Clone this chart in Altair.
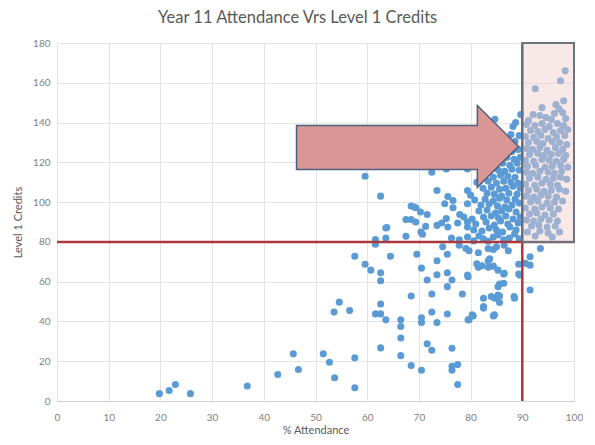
import altair as alt
import pandas as pd

# ---------- data ----------
# sparse low scores
xA = [19.8, 21.7, 22.9, 25.8, 36.8, 42.7, 45.7, 46.7, 51.5, 52.7, 53.7, 57.6, 57.6, 53.6, 54.6, 56.6,
      62.6, 61.6, 62.6, 63.6, 62.6, 66.5, 66.5, 66.5, 66.5, 68.5, 70.5, 70.5, 70.5, 71.6, 72.5, 72.5,
      73.5, 75.5, 76.4, 76.4, 77.5, 76.4, 77.5, 68.5, 72.5, 78.4, 79.5, 80.5, 82.5, 82.5, 84.4, 84.7,
      85.6, 85.6, 88.5, 75.5, 76.4, 71.6, 62.6, 80.3, 79.7, 84.6, 82.5, 84.0, 85.3]
yA = [3.7, 5.3, 8.3, 3.7, 7.5, 13.3, 23.7, 15.8, 23.7, 19.5, 11.7, 21.7, 6.7, 44.7, 49.7, 45.5,
      48.8, 43.8, 43.8, 40.8, 26.7, 40.8, 37.5, 31.7, 22.8, 17.8, 15.5, 41.8, 39.5, 28.8, 25.5, 44.7,
      39.5, 43.7, 26.5, 17.5, 18.3, 15.5, 8.3, 52.8, 53.8, 53.8, 40.8, 42.8, 46.7, 51.7, 42.8, 51.7,
      52.8, 49.5, 51.7, 57.5, 60.8, 60.8, 60.5, 43.3, 40.8, 43.3, 47.5, 52.5, 53.3]

# middle band (55-80 credits)
xB = [57.6, 64.5, 69.6, 59.6, 60.7, 62.6, 70.5, 73.5, 75.5, 73.5, 75.5, 79.5, 61.6, 61.6, 63.6, 63.6,
      67.5, 79.1, 79.7, 81.5, 83.4, 84.4, 87.3, 81.5, 83.4, 83.4, 84.4, 85.3, 86.4, 85.6, 86.4, 85.3,
      89.3, 89.3, 74.6, 77.8, 85.0, 86.5, 86.5, 79.4, 81.2, 82.2, 83.7, 93.5, 91.5, 91.5, 90.6, 89.5,
      91.5, 88.4]
yB = [72.8, 72.8, 73.8, 68.8, 65.8, 64.5, 66.8, 70.5, 73.8, 63.5, 64.5, 62.5, 78.8, 81.2, 82.0, 87.0,
      82.8, 76.7, 75.5, 74.5, 76.7, 76.2, 75.5, 67.2, 70.5, 67.2, 67.8, 65.8, 63.8, 58.8, 59.2, 57.5,
      68.8, 63.8, 77.5, 78.3, 77.5, 78.3, 64.2, 63.3, 69.0, 68.0, 71.5, 76.7, 72.5, 68.3, 69.2, 63.3,
      55.8, 52.5]

# upper middle, attendance below 80 %
xC = [59.6, 62.6, 68.5, 69.4, 67.5, 68.5, 69.4, 71.6, 71.3, 70.4, 70.7, 73.5, 74.4, 75.3, 75.6, 72.5,
      73.5, 75.3, 79.4, 79.4, 75.6, 76.6, 75.0, 76.6, 79.4, 77.9, 78.7, 79.4, 63.8, 69.1, 70.3]
yC = [113.0, 103.0, 98.0, 97.2, 91.2, 91.2, 90.0, 93.8, 87.8, 85.0, 83.8, 88.3, 89.5, 91.7, 87.5, 115.0,
      105.8, 116.7, 116.7, 105.8, 102.8, 100.8, 99.2, 97.2, 99.2, 93.8, 92.5, 90.0, 87.2, 97.5, 95.0]

# dense cluster, 80-90 % attendance
xD = [76.3, 77.8, 79.4, 80.6, 81.6, 82.5, 83.4, 84.4, 85.3, 86.4, 87.5, 88.5, 89.4,
      79.4, 80.6, 82.2, 83.6, 85.0, 86.2, 87.6, 88.8,
      77.5, 81.0, 83.0, 84.6, 85.8, 87.2, 89.2,
      80.3, 82.5, 84.0, 85.4, 86.8, 88.2, 89.6,
      81.6, 83.2, 84.8, 86.0, 87.4, 88.8,
      82.0, 83.6, 85.2, 86.6, 88.0, 89.4,
      80.8, 82.8, 84.4, 85.6, 87.0, 88.6,
      80.0, 83.2, 84.6, 86.0, 87.4, 89.0,
      82.4, 84.0, 85.6, 86.8, 88.2, 89.6,
      81.2, 83.4, 85.0, 86.4, 87.8, 89.2,
      82.6, 84.4, 85.8, 87.2, 88.6,
      82.5, 84.0, 85.4, 86.6, 88.0, 89.4,
      84.8, 86.2, 87.6, 89.0,
      85.6, 87.0, 88.4, 89.6,
      86.4, 88.0, 89.2,
      86.8, 88.6,
      87.8, 89.4,
      88.2,
      84.7, 88.7,
      89.7]
yD = [82.0, 81.0, 82.5, 80.5, 83.0, 81.5, 80.3, 82.5, 83.5, 81.0, 82.0, 84.0, 81.5,
      87.5, 86.0, 85.5, 87.0, 86.0, 85.0, 87.5, 86.0,
      89.5, 89.0, 90.0, 88.5, 90.5, 89.0, 89.5,
      91.5, 92.5, 93.0, 92.0, 93.0, 91.5, 92.5,
      95.5, 96.0, 94.5, 95.5, 96.5, 95.0,
      98.5, 99.0, 98.0, 97.5, 98.5, 99.5,
      101.0, 101.5, 100.5, 102.0, 101.0, 101.5,
      103.5, 104.5, 104.0, 103.0, 104.5, 104.0,
      107.0, 107.5, 106.5, 107.0, 108.0, 107.0,
      110.0, 110.5, 109.5, 110.5, 110.0, 109.5,
      113.0, 112.5, 113.5, 113.0, 112.5,
      115.5, 116.5, 116.0, 115.5, 116.5, 116.0,
      119.0, 119.5, 118.5, 119.5,
      122.0, 122.5, 121.5, 122.5,
      126.0, 125.5, 126.5,
      130.0, 130.5,
      134.0, 133.5,
      138.0,
      141.7, 140.0,
      144.0]

# highlighted group, 90 %+ attendance
xE = [98.3, 97.4, 92.5, 98.0, 96.5, 97.1, 93.8,
      92.1, 93.4, 96.2, 97.8,
      91.2, 94.6, 95.6, 98.4,
      90.8, 92.4, 93.8, 95.2, 96.8, 98.0,
      91.6, 93.0, 94.4, 96.0, 97.4, 98.8,
      90.6, 92.2, 93.6, 95.0, 96.6, 98.2,
      91.2, 92.8, 94.0, 95.8, 97.2, 98.6,
      90.8, 92.0, 93.4, 94.8, 96.4, 97.8,
      91.4, 93.0, 94.2, 95.6, 97.0, 98.4,
      90.6, 92.2, 93.8, 95.2, 96.6, 98.0,
      91.0, 92.6, 94.4, 95.8, 97.4, 98.8,
      90.8, 92.0, 93.4, 95.0, 96.2, 97.6,
      91.4, 93.0, 94.6, 96.0, 97.4, 98.6,
      90.6, 92.4, 93.8, 95.4, 96.8,
      91.2, 92.8, 94.2, 95.6, 97.2, 98.4,
      90.8, 92.2, 93.6, 95.0, 96.6,
      91.6, 93.0, 94.8, 96.2, 97.8,
      90.6, 92.4, 93.8, 95.4, 97.0,
      91.4, 92.8, 94.4, 96.0,
      90.8, 92.2, 93.6, 95.2, 96.8,
      91.8, 93.2, 94.8, 96.4,
      91.0, 93.4, 95.0, 97.2,
      92.5, 95.8]
yE = [166.0, 161.0, 157.0, 151.0, 149.0, 147.0, 147.5,
      144.0, 143.5, 144.5, 145.0,
      141.0, 142.5, 141.5, 142.0,
      139.0, 138.5, 139.5, 138.0, 139.5, 138.5,
      136.0, 135.5, 136.5, 135.0, 136.0, 136.5,
      133.0, 132.5, 133.5, 132.0, 133.0, 133.5,
      130.0, 130.5, 129.5, 130.5, 130.0, 129.0,
      127.0, 126.5, 127.5, 126.0, 127.5, 126.5,
      124.0, 124.5, 123.5, 124.0, 124.5, 123.5,
      121.0, 120.5, 121.5, 121.0, 120.5, 121.5,
      118.0, 118.5, 117.5, 118.0, 118.5, 117.5,
      115.0, 114.5, 115.5, 115.0, 114.5, 115.5,
      112.0, 112.5, 111.5, 112.0, 112.5, 111.5,
      109.0, 108.5, 109.5, 109.0, 108.5,
      106.0, 106.5, 105.5, 106.0, 106.5, 105.5,
      103.0, 102.5, 103.5, 103.0, 102.5,
      100.0, 100.5, 99.5, 100.0, 100.5,
      97.0, 96.5, 97.5, 97.0, 96.5,
      94.0, 94.5, 93.5, 94.0,
      91.0, 90.5, 91.5, 91.0, 90.5,
      88.0, 88.5, 87.5, 88.0,
      85.0, 85.5, 84.5, 85.0,
      83.0, 82.5]

x_ticks = [0, 10, 20, 30, 40, 50, 60, 70, 80, 90, 100]
y_ticks = [0, 20, 40, 60, 80, 100, 120, 140, 160, 180]

attendance_cut = [90]
credits_cut = [80]
# arrow annotation centre (data units)
arrow_at = [67.8]
arrow_credits = [128]

# ---------- chart ----------
pts = pd.DataFrame({"attendance": xA + xB + xC + xD + xE,
                    "credits": yA + yB + yC + yD + yE})

FONT = "Lato"
x_scale = alt.Scale(domain=[0, 100], nice=False, zero=False)
y_scale = alt.Scale(domain=[0, 180], nice=False)

x_axis = alt.Axis(values=x_ticks, title="% Attendance", grid=True, gridColor="#e3e3e3",
                  domain=True, domainColor="#d0d0d0", ticks=False, labelColor="#808080",
                  labelFont=FONT, labelFontSize=10, labelPadding=11, labelFlush=False,
                  titleFont=FONT, titleFontSize=11, titleFontWeight="normal",
                  titleColor="#595959", titlePadding=2)
y_axis = alt.Axis(values=y_ticks, title="Level 1 Credits", grid=True, gridColor="#e3e3e3",
                  domain=False, ticks=False, labelColor="#808080", labelFont=FONT,
                  labelFontSize=10, labelPadding=7, labelFlush=False, labelOverlap=False,
                  titleFont=FONT, titleFontSize=11, titleFontWeight="normal",
                  titleColor="#595959", titlePadding=9)


def X(field):
    return alt.X(field, type="quantitative", scale=x_scale, axis=x_axis)


def Y(field):
    return alt.Y(field, type="quantitative", scale=y_scale, axis=y_axis)


points = alt.Chart(pts).mark_circle(size=50, color="#5b9bd5", opacity=1).encode(
    x=X("attendance"), y=Y("credits"))

hline_df = pd.DataFrame({"credits": credits_cut, "attendance": [x_ticks[0]],
                         "attendance2": [x_ticks[-1]]})
hline = alt.Chart(hline_df).mark_rule(color="#a9393c", strokeWidth=2.5).encode(
    y=Y("credits"), x=X("attendance"), x2="attendance2:Q")

vline_df = pd.DataFrame({"attendance": attendance_cut, "credits": [y_ticks[0]],
                         "credits2": [y_ticks[-1]]})
vline = alt.Chart(vline_df).mark_rule(color="#a9393c", strokeWidth=2.5).encode(
    x=X("attendance"), y=Y("credits"), y2="credits2:Q")

box_df = pd.DataFrame({"attendance": attendance_cut, "attendance2": [x_ticks[-1]],
                       "credits": credits_cut, "credits2": [y_ticks[-1]]})
box = alt.Chart(box_df).mark_rect(fill="#f0cccc", fillOpacity=0.45, stroke="#6b7280",
                                  strokeWidth=2).encode(
    x=X("attendance"), x2="attendance2:Q", y=Y("credits"), y2="credits2:Q")

arrow_path = ("M -1 -0.189 L 0.629 -0.189 L 0.629 -0.369 L 1 0 "
              "L 0.629 0.369 L 0.629 0.207 L -1 0.207 Z")
arrow_df = pd.DataFrame({"attendance": arrow_at, "credits": arrow_credits})
arrow = alt.Chart(arrow_df).mark_point(shape=arrow_path, size=222 * 222, filled=True,
                                       fill="#d99694", fillOpacity=1, stroke="#4f5f80",
                                       strokeWidth=1.5, strokeOpacity=1, opacity=1).encode(
    x=X("attendance"), y=Y("credits"))

chart = alt.layer(points, hline, vline, box, arrow).properties(
    width=517, height=358,
    title=alt.TitleParams("Year 11 Attendance Vrs Level 1 Credits", font=FONT, fontSize=16.5,
                          fontWeight="normal", color="#595959", offset=12, frame="bounds",
                          anchor="middle"),
    padding={"left": 4, "top": 1, "right": 0, "bottom": 0},
).configure_view(stroke=None)

chart.save("out.html", embed_options={"renderer": "svg", "actions": False})
